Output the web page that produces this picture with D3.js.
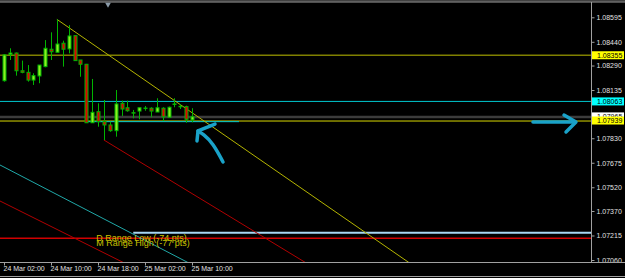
<!DOCTYPE html>
<html>
<head>
<meta charset="utf-8">
<script src="https://cdn.jsdelivr.net/npm/d3@7"></script>
<style>
html,body{margin:0;padding:0;background:#000;overflow:hidden}
text{font-family:"Liberation Sans",Arial,sans-serif}
</style>
</head>
<body>
<svg id="chart" width="625" height="278"></svg>
<script>
// H1 bars, first bar 24 Mar 02:00
const t0 = new Date(2020, 2, 24, 2, 0);
const HOUR = 3600e3;

const opens  = [1.08194,1.08359,1.08369,1.08257,1.08247,1.08198,1.08224,1.08283,1.08393,1.08374,1.08431,1.08395,1.08479,1.08325,1.08298,1.07928,1.07998,1.07935,1.07914,1.07878,1.08051,1.08023,1.07992,1.08002,1.08020,1.08020,1.07996,1.08020,1.07963,1.08045,1.08030,1.08030,1.07946];
const highs  = [1.08362,1.08399,1.08372,1.08321,1.08293,1.08241,1.08293,1.08451,1.08500,1.08582,1.08447,1.08546,1.08481,1.08325,1.08300,1.08205,1.08051,1.08072,1.07935,1.08135,1.08068,1.08068,1.08009,1.08023,1.08034,1.08026,1.08083,1.08026,1.08030,1.08083,1.08045,1.08036,1.08020];
const lows   = [1.08188,1.08325,1.08226,1.08241,1.08188,1.08167,1.08178,1.08279,1.08325,1.08374,1.08283,1.08367,1.08321,1.08219,1.07928,1.07928,1.07903,1.07819,1.07871,1.07840,1.07971,1.07998,1.07956,1.07950,1.08004,1.07963,1.07996,1.07939,1.07963,1.08026,1.08015,1.07928,1.07931];
const closes = [1.08357,1.08369,1.08257,1.08247,1.08198,1.08226,1.08293,1.08399,1.08377,1.08426,1.08393,1.08477,1.08321,1.08298,1.07928,1.07994,1.07935,1.07914,1.07878,1.08047,1.08015,1.08004,1.07990,1.08023,1.08021,1.08002,1.08023,1.07966,1.08026,1.08047,1.08032,1.07950,1.07966];

const priceTicks = [1.08595,1.08440,1.08290,1.08135,1.07830,1.07675,1.07520,1.07370,1.07215,1.07060];
const timeTicks = [
  new Date(2020,2,24,2), new Date(2020,2,24,10), new Date(2020,2,24,18),
  new Date(2020,2,25,2), new Date(2020,2,25,10)
];

// horizontal levels with price tags
const levelPrices = [1.08355, 1.08063, 1.07965, 1.07939];
// range lines (start hour, price) + text
const rangeStart = [22, -2];
const rangePrices = [1.07233, 1.07197];
const rangeLabels = ["D Range Low (-74 pts)", "M Range High (-77 pts)"];
const rangeLabelHour = 15.7;
// short cyan segment
const segHours = [14, 40];
const segPrice = 1.07935;
// trendlines: two anchor points each (hours from first bar, price)
const trendHours  = [[9, 68.8], [17, 51], [-1, 20], [-1, 31]];
const trendPrices = [[1.08582, 1.07047], [1.07819, 1.07051], [1.07439, 1.07050], [1.07667, 1.07050]];
// hand-drawn arrows (hours, price)
const arrow1Hours  = [37.28, 35.57, 33.87, 33.02];
const arrow1Prices = [1.07680, 1.07800, 1.07857, 1.07876];
const head1Hours   = [32.85, 33.02, 35.91];
const head1Prices  = [1.07813, 1.07876, 1.07920];
const arrow2Hours  = [90.04, 97.19];
const arrow2Prices = [1.07933, 1.07933];
const head2Hours   = [95.32, 97.36, 95.66];
const head2Prices  = [1.07977, 1.07933, 1.07870];

const svg = d3.select('#chart');
const W = 625, H = 278, plotR = 591, plotT = 2, plotB = 262;
const hr = h => new Date(+t0 + h * HOUR);

const x = d3.scaleTime().domain([t0, hr(100)]).range([4, 591.5]);
const y = d3.scaleLinear().domain([1.07060, 1.08595]).range([260, 17.3]);

svg.append('rect').attr('width', W).attr('height', H).attr('fill', '#000');
svg.append('defs').append('clipPath').attr('id', 'plot')
  .append('rect').attr('x', 0).attr('y', plotT).attr('width', plotR).attr('height', plotB - plotT);

const g = svg.append('g').attr('clip-path', 'url(#plot)');

// horizontal levels
const levelColor = ['#808000', '#00c8d0', '#3c3c3c', '#d8d800'];
const levelWidth = [1.5, 1, 2.5, 1];
g.selectAll('.lvl').data(levelPrices).join('line')
  .attr('x1', 0).attr('x2', plotR)
  .attr('y1', d => y(d)).attr('y2', d => y(d))
  .attr('stroke', (d, i) => levelColor[i]).attr('stroke-width', (d, i) => levelWidth[i]);

g.append('line')
  .attr('x1', x(hr(segHours[0]))).attr('x2', x(hr(segHours[1])))
  .attr('y1', y(segPrice)).attr('y2', y(segPrice))
  .attr('stroke', '#00c8d0').attr('stroke-width', 1);

// range lines
const rangeColor = ['#a6d6f2', '#d00000'];
const rangeWidth = [2, 1.5];
g.selectAll('.rng').data(rangePrices).join('line')
  .attr('x1', (d, i) => x(hr(rangeStart[i]))).attr('x2', plotR)
  .attr('y1', d => y(d)).attr('y2', d => y(d))
  .attr('stroke', (d, i) => rangeColor[i]).attr('stroke-width', (d, i) => rangeWidth[i]);

// trendlines, extended to the right
const trendColor = ['#b4b400', '#b00000', '#b00000', '#20a8a8'];
g.selectAll('.trend').data(trendHours).join('line')
  .attr('x1', d => x(hr(d[0])))
  .attr('y1', (d, i) => y(trendPrices[i][0]))
  .attr('x2', d => x(hr(120)))
  .attr('y2', (d, i) => {
    const p = trendPrices[i], s = (p[1] - p[0]) / (d[1] - d[0]);
    return y(p[0] + s * (120 - d[0]));
  })
  .attr('stroke', (d, i) => trendColor[i]).attr('stroke-width', 1);

// candles
const bars = d3.range(opens.length);
const bx = i => Math.round(x(hr(i)));
g.selectAll('.wick').data(bars).join('line')
  .attr('x1', i => bx(i) + 0.5).attr('x2', i => bx(i) + 0.5)
  .attr('y1', i => y(highs[i])).attr('y2', i => y(lows[i]))
  .attr('stroke', '#00b400').attr('stroke-width', 1);
g.selectAll('.body').data(bars).join('rect')
  .attr('x', i => bx(i) - 1)
  .attr('y', i => y(Math.max(opens[i], closes[i])))
  .attr('width', 3)
  .attr('height', i => Math.max(0.5, Math.abs(y(opens[i]) - y(closes[i]))))
  .attr('fill', i => closes[i] >= opens[i] ? '#8cf020' : '#e00000')
  .attr('stroke', '#00b400').attr('stroke-width', 1);

// range texts
g.selectAll('.rtxt').data(rangeLabels).join('text')
  .attr('x', x(hr(rangeLabelHour)))
  .attr('y', (d, i) => i === 0 ? 240.5 : 246)
  .attr('font-size', '9px').attr('fill', '#c8c000')
  .text(d => d);

// arrows
const arrowLine = d3.line().curve(d3.curveBasis);
const arrowCol = '#1aa2c8';
function drawArrow(hs, ps, curve) {
  const pts = hs.map((h, i) => [x(hr(h)), y(ps[i])]);
  svg.append('path')
    .attr('d', (curve ? arrowLine : d3.line())(pts))
    .attr('fill', 'none').attr('stroke', arrowCol).attr('stroke-width', 3.5)
    .attr('stroke-linecap', 'round').attr('stroke-linejoin', 'round');
}
drawArrow(arrow1Hours, arrow1Prices, true);
drawArrow(head1Hours, head1Prices, false);
drawArrow(arrow2Hours, arrow2Prices, false);
drawArrow(head2Hours, head2Prices, false);

// frame
svg.append('rect').attr('x', 0).attr('y', 0).attr('width', W).attr('height', 1.5).attr('fill', '#404040');
svg.append('line').attr('x1', 0).attr('x2', W).attr('y1', 2).attr('y2', 2).attr('stroke', '#a0a0a0');
svg.append('line').attr('x1', 0).attr('x2', W).attr('y1', 276.5).attr('y2', 276.5).attr('stroke', '#a0a0a0');
svg.append('path')
  .attr('d', d3.symbol(d3.symbolTriangle, 14)())
  .attr('transform', `translate(${x(hr(17.7))},4.5) rotate(180)`)
  .attr('fill', '#8a9aa8');

// right price axis
const ya = svg.append('g').attr('transform', `translate(${plotR + 0.5},0)`)
  .call(d3.axisRight(y).tickValues(priceTicks).tickFormat(d3.format('.5f')).tickSize(3).tickPadding(2));
ya.select('.domain').attr('stroke', '#a0a0a0').attr('d', `M0,${plotT}V${plotB}`);
ya.selectAll('.tick line').attr('stroke', '#a0a0a0');
ya.selectAll('.tick text').attr('fill', '#e0e0e0').attr('font-size', '7px')
  .attr('font-family', '"Liberation Sans",Arial,sans-serif');

// price tags
const tagFill = ['#ffff00', '#00ffff', '#ffffff', '#ffff00'];
const tagOffset = [0, 0, -0.5, -0.5];
const tags = svg.selectAll('.tag').data(levelPrices).join('g')
  .attr('transform', (d, i) => `translate(${plotR + 1},${y(d) - 4 + tagOffset[i]})`);
tags.append('rect').attr('width', 32).attr('height', 8).attr('fill', (d, i) => tagFill[i]);
tags.append('text').attr('x', 5).attr('y', 6.5).attr('font-size', '7px').attr('fill', '#000')
  .text(d => d3.format('.5f')(d));

// bottom time axis
svg.append('line').attr('x1', 0).attr('x2', W).attr('y1', plotB + 0.5).attr('y2', plotB + 0.5).attr('stroke', '#a0a0a0');
const xa = svg.append('g').attr('transform', `translate(0,${plotB + 0.5})`)
  .call(d3.axisBottom(x).tickValues(timeTicks).tickFormat(d3.timeFormat('%d %b %H:%M')).tickSize(3).tickPadding(1));
xa.select('.domain').remove();
xa.selectAll('.tick line').attr('stroke', '#a0a0a0');
xa.selectAll('.tick text').attr('fill', '#e0e0e0').attr('font-size', '7px')
  .attr('text-anchor', 'start').attr('dx', -1)
  .attr('font-family', '"Liberation Sans",Arial,sans-serif');
</script>
</body>
</html>
